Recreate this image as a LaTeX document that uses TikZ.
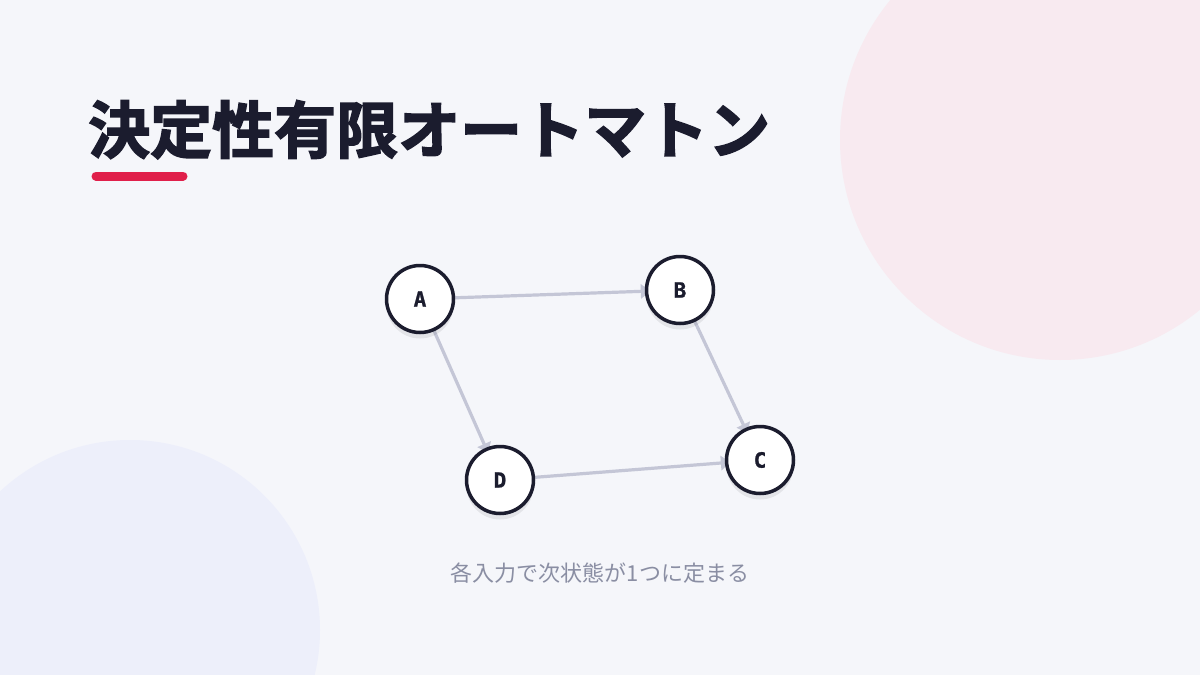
\documentclass[tikz,border=0pt]{standalone}
\usepackage{fontspec}
\newfontfamily\cjk{Noto Sans CJK JP}
\newfontfamily\cjkbold[FakeBold=2.5]{Noto Sans CJK JP Bold}
\newfontfamily\monob[FakeBold=1]{DejaVu Sans Mono Bold}
\usetikzlibrary{arrows.meta,shadows,backgrounds}

\definecolor{bgcol}{HTML}{F5F6FA}
\definecolor{pinkblob}{HTML}{F8EAF0}
\definecolor{blueblob}{HTML}{EDEFFA}
\definecolor{inkcol}{HTML}{1B1C2E}
\definecolor{accent}{HTML}{E01F4A}
\definecolor{edgecol}{HTML}{C4C6D6}
\definecolor{subcol}{HTML}{8A8EA3}

\pgfdeclarelayer{canvas}
\pgfsetlayers{canvas,background,main}

\tikzset{
  state/.style={circle, draw=inkcol, line width=3.5pt, fill=white, minimum size=67pt,
    inner sep=0pt, font=\monob\fontsize{21}{21}\selectfont, text=inkcol,
    drop shadow={shadow xshift=0pt, shadow yshift=-6pt, opacity=0.07, fill=black}},
  trans/.style={draw=edgecol, line width=3.2pt, -{Latex[length=12pt,width=16pt]}, shorten >=-8pt}
}

\begin{document}
\begin{tikzpicture}[x=1pt,y=-1pt]
			\useasboundingbox (0,0) rectangle (1200,675);
			\begin{pgfonlayer}{canvas}
				\clip (0,0) rectangle (1200,675);
				\fill[bgcol] (0,0) rectangle (1200,675);
				% background blobs
				\fill[pinkblob] (1060,140) circle (220);
				\fill[blueblob] (130,630) circle (190);
			\end{pgfonlayer}
			
			\node[anchor=base west, inner sep=0pt, text=inkcol] (title) at (88,153)
				{\cjkbold\fontsize{62}{62}\selectfont 決定性有限オートマトン};
			\draw[accent, line width=9pt, line cap=round] (96,176) -- (183,176);
			
			\node[state] (A) at (420,299) {A};
			\node[state] (B) at (680,290) {B};
			\node[state] (C) at (760,460) {C};
			\node[state] (D) at (500,480) {D};
			
			\begin{scope}[on background layer]
				\draw[trans] (A) -- (B);
				\draw[trans] (B) -- (C);
				\draw[trans] (A) -- (D);
				\draw[trans] (D) -- (C);
			\end{scope}
			
			\node[text=subcol] (caption) at (600,573)
				{\cjk\fontsize{22}{22}\selectfont 各入力で次状態が1つに定まる};
		\end{tikzpicture}
\end{document}
